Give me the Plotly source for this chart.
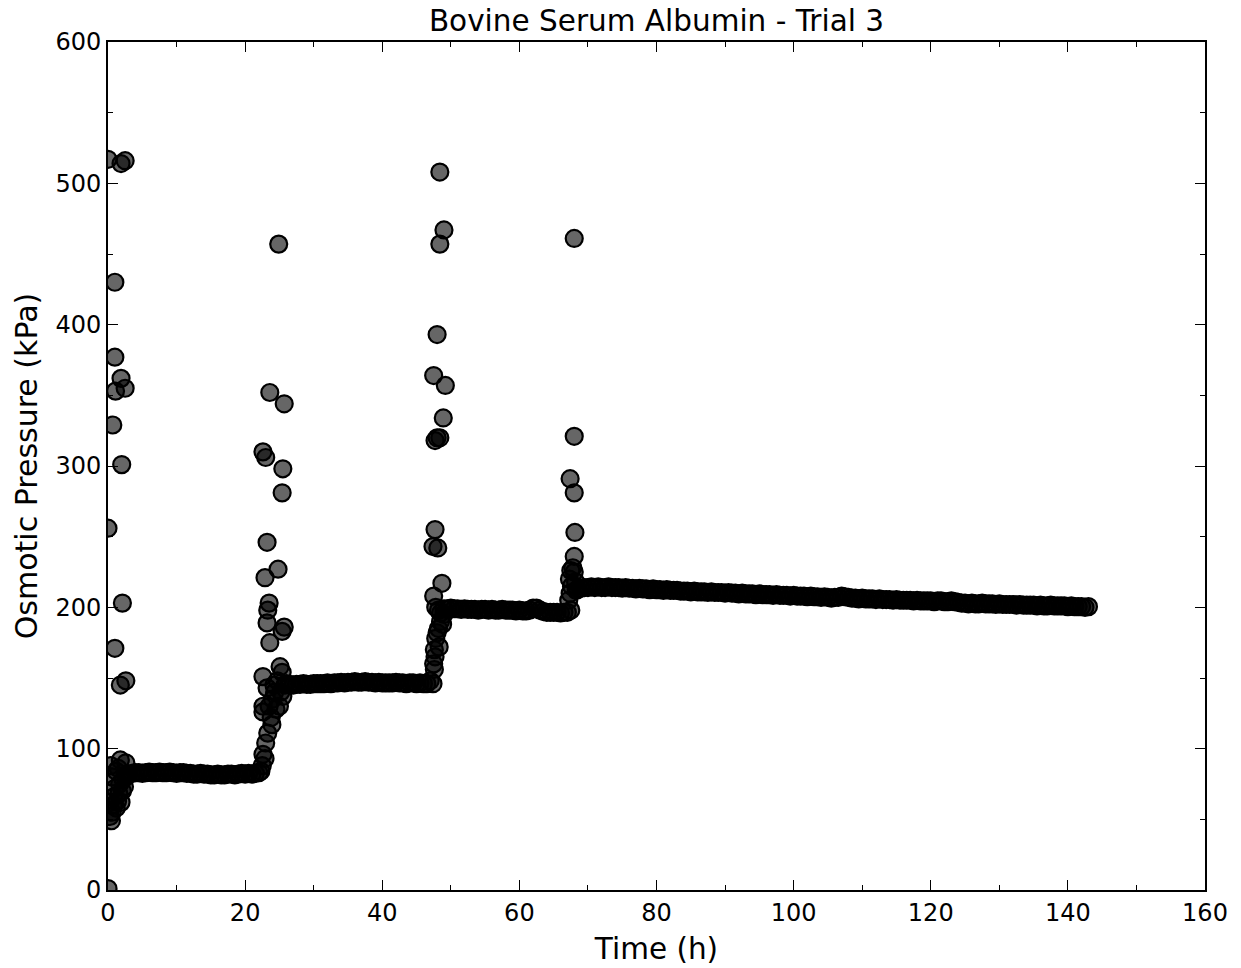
import plotly.graph_objects as go

# ---- initial transient (t ~ 0-3 h) ----
time_initial = [0.0, 0.0, 0.0, 0.7, 1.0, 1.0, 1.1, 1.9, 2.5, 2.0, 2.1, 1.0, 1.8, 2.6, 1.9, 2.5,
                1.8, 2.6, 0.2, 0.3, 0.5, 0.6, 0.8, 0.9, 1.0, 1.2, 1.4, 1.6, 1.7, 1.9, 2.1, 2.2,
                2.4, 2.6, 2.8, 0.4, 0.6, 1.2, 1.5, 3.0]
pressure_initial = [1, 517, 256, 329, 430, 377, 353, 362, 355, 301, 203, 171, 145, 148, 514, 516,
                    92, 90, 62, 52, 49, 55, 60, 66, 72, 58, 63, 68, 75, 62, 70, 78,
                    73, 80, 82, 88, 80, 84, 86, 82]

# ---- plateau 1 ----
time_plateau1 = [3.5, 4.0, 4.5, 5.0, 5.5, 6.0, 6.5, 7.0, 7.5, 8.0, 8.5, 9.0, 9.5, 10.0, 10.5, 11.0,
                 11.5, 12.0, 12.5, 13.0, 13.5, 14.0, 14.5, 15.0, 15.5, 16.0, 16.5, 17.0, 17.5, 18.0,
                 18.5, 19.0, 19.5, 20.0, 20.5, 21.0, 21.5, 22.0]
pressure_plateau1 = [82.5, 83, 83, 82.5, 83, 83.5, 83, 83, 83.5, 83,
                     83, 83.5, 83, 82.5, 83, 83, 82.5, 82.5, 82, 82,
                     82.5, 82, 82, 81.5, 81.5, 82, 81.5, 81.5, 82, 82,
                     81.5, 82, 82.5, 82, 82.5, 82, 82.5, 83]

# ---- transition 2 (t ~ 22-26 h) ----
time_step2 = [22.3, 22.5, 22.6, 22.9, 22.6, 22.6, 22.6, 23.0, 22.9, 23.2, 23.6, 23.5, 23.3, 23.2,
              23.6, 23.2, 23.0, 23.3, 23.9, 23.5, 24.0, 24.3, 24.9, 24.8, 25.1, 25.4, 25.4, 25.7,
              25.4, 25.5, 25.7, 25.8, 25.5, 25.0, 24.5, 24.2, 24.7, 25.2, 23.8, 22.6, 26.0]
pressure_step2 = [84, 88, 96, 93, 126, 151, 310, 306, 221, 246, 352, 203, 198, 189,
                  175, 143, 104, 111, 117, 130, 135, 140, 457, 227, 158, 154, 183, 186,
                  281, 298, 344, 145, 137, 130, 128, 145, 148, 140, 122, 130, 146]

# ---- plateau 2 ----
time_plateau2 = [26.5, 27.0, 27.5, 28.0, 28.5, 29.0, 29.5, 30.0, 30.5, 31.0, 31.5, 32.0, 32.5, 33.0,
                 33.5, 34.0, 34.5, 35.0, 35.5, 36.0, 36.5, 37.0, 37.5, 38.0, 38.5, 39.0, 39.5, 40.0,
                 40.5, 41.0, 41.5, 42.0, 42.5, 43.0, 43.5, 44.0, 44.5, 45.0, 45.5, 46.0, 46.5]
pressure_plateau2 = [145.5, 145, 145.5, 145.5, 146, 145.5, 145.5, 146, 146, 146,
                     146, 146.5, 146, 146.5, 146.5, 147, 146.5, 147, 147, 147.5,
                     147, 147, 147.5, 147, 147, 146.5, 147, 146.5, 146.5, 146.5,
                     146.5, 147, 146.5, 146.5, 146, 146.5, 146.5, 146, 146.5, 146, 146]

# ---- transition 3 (t ~ 47-49 h) ----
time_step3 = [47.0, 47.4, 47.5, 47.7, 47.6, 47.8, 48.0, 48.2, 48.5, 48.8, 49.0, 47.5, 47.4, 47.7,
              48.1, 48.7, 47.7, 48.0, 48.4, 48.9, 47.5, 49.2, 48.0, 48.4, 49.0, 48.4, 47.8, 48.2,
              48.5, 49.0, 47.6, 48.3]
pressure_step3 = [148, 146, 160, 165, 170, 178, 182, 185, 190, 188, 195, 208, 243, 255,
                  242, 217, 318, 320, 320, 334, 364, 357, 393, 457, 467, 508, 200, 198,
                  196, 199, 156, 172]

# ---- plateau 3 ----
time_plateau3 = [49.5, 50.0, 50.5, 51.0, 51.5, 52.0, 52.5, 53.0, 53.5, 54.0, 54.5, 55.0, 55.5, 56.0,
                 56.5, 57.0, 57.5, 58.0, 58.5, 59.0, 59.5, 60.0, 60.5, 61.0, 61.5, 62.0, 62.5, 63.0,
                 63.5, 64.0, 64.5, 65.0, 65.5, 66.0, 66.5, 67.0]
pressure_plateau3 = [199, 199.5, 199, 199, 198.5, 199, 198.5, 198.5, 198.5, 198,
                     198.5, 198.5, 198, 198.5, 198, 198, 198.5, 198, 198, 198,
                     197.5, 198, 197.5, 197.5, 198, 199.5, 199.5, 198, 197, 196.5,
                     196.5, 196.5, 196.5, 196, 196.5, 196.5]

# ---- transition 4 (t ~ 67-69 h) ----
time_step4 = [67.5, 67.2, 67.4, 67.6, 67.3, 67.5, 67.8, 68.0, 68.2, 68.3, 68.0, 68.1, 68.0, 67.4,
              68.0, 68.0, 68.5]
pressure_step4 = [198, 205, 210, 215, 220, 226, 228, 225, 218, 212, 236, 253, 281, 291,
                  321, 461, 213]

# ---- plateau 4 ----
time_plateau4 = [69.0, 69.5, 70.0, 70.5, 71.0, 71.5, 72.0, 72.5, 73.0, 73.5,
                 74.0, 74.5, 75.0, 75.5, 76.0, 76.5, 77.0, 77.5, 78.0, 78.5,
                 79.0, 79.5, 80.0, 80.5, 81.0, 81.5, 82.0, 82.5, 83.0, 83.5,
                 84.0, 84.5, 85.0, 85.5, 86.0, 86.5, 87.0, 87.5, 88.0, 88.5,
                 89.0, 89.5, 90.0, 90.5, 91.0, 91.5, 92.0, 92.5, 93.0, 93.5,
                 94.0, 94.5, 95.0, 95.5, 96.0, 96.5, 97.0, 97.5, 98.0, 98.5,
                 99.0, 99.5, 100.0, 100.5, 101.0, 101.5, 102.0, 102.5, 103.0, 103.5,
                 104.0, 104.5, 105.0, 105.5, 106.0, 106.5, 107.0, 107.5, 108.0, 108.5,
                 109.0, 109.5, 110.0, 110.5, 111.0, 111.5, 112.0, 112.5, 113.0, 113.5,
                 114.0, 114.5, 115.0, 115.5, 116.0, 116.5, 117.0, 117.5, 118.0, 118.5,
                 119.0, 119.5, 120.0, 120.5, 121.0, 121.5, 122.0, 122.5, 123.0, 123.5,
                 124.0, 124.5, 125.0, 125.5, 126.0, 126.5, 127.0, 127.5, 128.0, 128.5,
                 129.0, 129.5, 130.0, 130.5, 131.0, 131.5, 132.0, 132.5, 133.0, 133.5,
                 134.0, 134.5, 135.0, 135.5, 136.0, 136.5, 137.0, 137.5, 138.0, 138.5,
                 139.0, 139.5, 140.0, 140.5, 141.0, 141.5, 142.0, 142.5, 143.0]
pressure_plateau4 = [213.5, 214, 214, 214.5, 214, 214.5, 214, 214, 214.5, 214,
                     214, 214, 213.5, 214, 213.5, 213.5, 213, 213.5, 213, 213,
                     212.5, 213, 212.5, 212.5, 212, 212.5, 212, 212, 212, 211.5,
                     211.5, 211.5, 211, 211.5, 211, 211, 211, 210.5, 211, 210.5,
                     210.5, 210.5, 210, 210.5, 210, 210, 209.5, 210, 209.5, 209.5,
                     209.5, 209, 209.5, 209, 209, 209, 208.5, 209, 208.5, 208.5,
                     208.5, 208, 208.5, 208, 208, 208, 207.5, 208, 207.5, 207.5,
                     207, 207.5, 207, 206.5, 207, 207, 208, 207.5, 207, 206.5,
                     206.5, 206, 206.5, 206, 206, 206, 205.5, 206, 205.5, 205.5,
                     205.5, 205, 205.5, 205, 205, 205, 205, 204.5, 205, 204.5,
                     204.5, 204.5, 204.5, 204, 204.5, 204.5, 204, 204, 204.5, 204,
                     203.5, 203, 203, 202.5, 203, 202.5, 202.5, 203, 202.5, 202.5,
                     202.5, 202, 202.5, 202, 202, 202, 202, 201.5, 202, 201.5,
                     201.5, 201.5, 201.5, 201, 201.5, 201, 201, 201.5, 201, 201,
                     201, 201, 200.5, 201, 200.5, 200.5, 200.5, 200, 200.5]

x_ticks = [0, 20, 40, 60, 80, 100, 120, 140, 160]
y_ticks = [0, 100, 200, 300, 400, 500, 600]

time_all = (time_initial + time_plateau1 + time_step2 + time_plateau2 + time_step3
            + time_plateau3 + time_step4 + time_plateau4)
pressure_all = (pressure_initial + pressure_plateau1 + pressure_step2 + pressure_plateau2
                + pressure_step3 + pressure_plateau3 + pressure_step4 + pressure_plateau4)

font_family = "DejaVu Sans"

fig = go.Figure(
    go.Scatter(
        x=time_all, y=pressure_all, mode="markers",
        marker=dict(size=17, color="rgba(0,0,0,0.6)", line=dict(color="black", width=2.2)),
        showlegend=False,
    )
)

axis_common = dict(
    showline=True, linewidth=2, linecolor="black", mirror="allticks",
    ticks="inside", ticklen=10, tickwidth=1, tickcolor="black",
    showgrid=False, zeroline=False, automargin=False,
    tickfont=dict(family=font_family, size=24, color="black"),
)

fig.update_layout(
    width=1241, height=968,
    margin=dict(l=108, r=36, t=42, b=78),
    plot_bgcolor="white", paper_bgcolor="white",
    title=dict(text="Bovine Serum Albumin - Trial 3", x=0.5, xref="paper",
               y=1 - 21 / 968, yref="container", yanchor="middle", xanchor="center",
               font=dict(family=font_family, size=29.5, color="black")),
    xaxis=dict(range=[0, 160], tickvals=x_ticks,
               minor=dict(dtick=10, ticks="inside", ticklen=5, tickcolor="black", tickwidth=1),
               title=dict(text="Time (h)", standoff=13,
                          font=dict(family=font_family, size=29.5, color="black")),
               **axis_common),
    yaxis=dict(range=[0, 600], tickvals=y_ticks,
               minor=dict(dtick=50, ticks="inside", ticklen=5, tickcolor="black", tickwidth=1),
               title=dict(text="Osmotic Pressure (kPa)", standoff=9,
                          font=dict(family=font_family, size=30, color="black")),
               **axis_common),
)

fig.write_html("out.html")
